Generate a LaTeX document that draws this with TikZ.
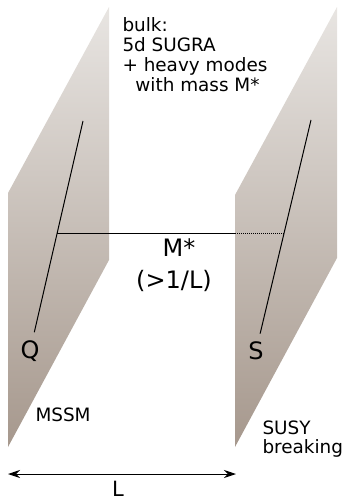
\documentclass[tikz,border=0pt]{standalone}
\usepackage{fontspec}
\setmainfont{DejaVu Sans}
\usetikzlibrary{arrows.meta}
\definecolor{BraneTop}{RGB}{232,229,226}
\definecolor{BraneBottom}{RGB}{166,152,141}

\begin{document}
\begin{tikzpicture}[>={Stealth[length=12pt, width=8pt]}, x=1pt, y=-1pt, line width=1pt,
    brane/.style={top color=BraneTop, bottom color=BraneBottom},
    big/.style={font=\fontsize{24}{26}\selectfont, inner sep=0pt},
    small/.style={font=\fontsize{18.4}{20}\selectfont, inner sep=0pt, align=left}]
    \useasboundingbox (0,0) rectangle (348,500);
    % Branes
    \shade[brane] (8,193) -- (109,7) -- (109,260) -- (8,447) -- cycle;
    \shade[brane] (235,195) -- (337,7) -- (337,258) -- (235,447) -- cycle;
    % Brane labels
    \node[big] (Q) at (30,351) {Q};
    \node[big] (S) at (256,351) {S};
    % Fields living on the branes
    \coordinate (qtop) at (83,121);
    \coordinate (stop) at (311,120);
    \draw[shorten >=8pt] (qtop) -- (Q);
    \draw[shorten >=8pt] (stop) -- (S);
    % Bulk exchange between Q and S
    \coordinate (mq) at (56.6,233);
    \coordinate (edge) at (235,233);
    \coordinate (ms) at (284.6,233);
    \draw (mq) -- (edge);
    \draw[densely dotted] (edge) -- (ms);
    \node[big] (mass) at (179,248) {M*};
    \node[big] (bound) at (174,281) {(>1/L)};
    % Text labels
    \node[small, anchor=north west] (bulk) at (122,17) {bulk:\\5d SUGRA\\+ heavy modes\\\hspace{0.7em}with mass M*};
    \node[small, anchor=base west] (mssm) at (35,421) {MSSM};
    \node[small, anchor=base west, font=\fontsize{18.4}{19}\selectfont] (susy) at (262,434) {SUSY};
    \node[small, anchor=base west] (brk) at (262,453) {breaking};
    % Size of the extra dimension
    \coordinate (la) at (8,474);
    \coordinate (lb) at (236,474);
    \draw[<->] (la) -- (lb);
    \node[big, anchor=base, font=\fontsize{21}{22}\selectfont] (len) at (118,496) {L};
\end{tikzpicture}
\end{document}
